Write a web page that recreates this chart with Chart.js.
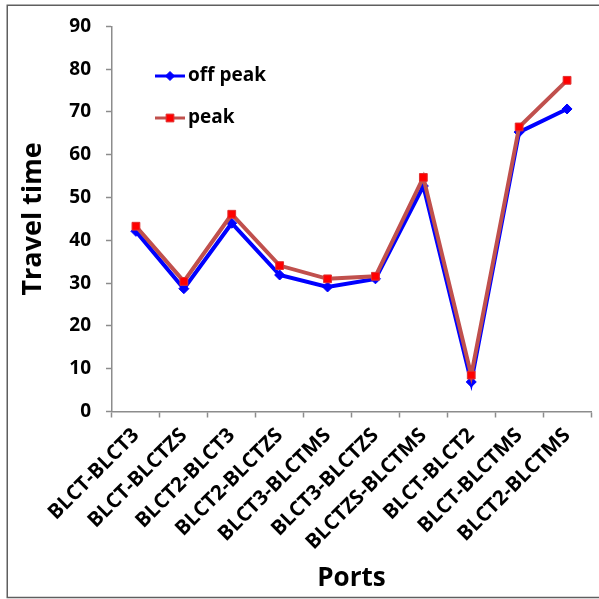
<!DOCTYPE html>
<html>
<head>
<meta charset="utf-8">
<title>Travel time by port pair</title>
<script src="https://cdn.jsdelivr.net/npm/chart.js@4/dist/chart.umd.min.js"></script>
<style>
  html, body { margin: 0; padding: 0; background: #ffffff; }
  canvas { display: block; }
</style>
</head>
<body>
<canvas id="chart" width="599" height="599"></canvas>
<script>
// Port pairs along the x axis
const ports = ['BLCT-BLCT3', 'BLCT-BLCTZS', 'BLCT2-BLCT3', 'BLCT2-BLCTZS', 'BLCT3-BLCTMS',
               'BLCT3-BLCTZS', 'BLCTZS-BLCTMS', 'BLCT-BLCT2', 'BLCT-BLCTMS', 'BLCT2-BLCTMS'];

// Travel time per port pair
const offPeak = [42.1, 28.7, 44.0, 31.9, 29.1, 31.0, 52.7, 6.9, 65.3, 70.7];
const peak    = [43.3, 30.4, 46.1, 34.1, 31.0, 31.6, 54.7, 8.5, 66.5, 77.4];

// Y axis range
const yMin = 0;
const yMax = 90;
const yStep = 10;

const FONT = "'Open Sans', 'DejaVu Sans', sans-serif";

// Outer frame around the whole figure
const framePlugin = {
  id: 'frame',
  beforeDraw(chart) {
    const ctx = chart.ctx;
    ctx.save();
    ctx.fillStyle = '#ffffff';
    ctx.fillRect(0, 0, chart.width, chart.height);
    ctx.strokeStyle = '#5f5f5f';
    ctx.lineWidth = 1.5;
    ctx.strokeRect(7.25, 5.25, chart.width + 20, chart.height - 6.75);
    ctx.restore();
  }
};

// Legend drawn inside the plot area, upper left
const insideLegend = {
  id: 'insideLegend',
  afterDatasetsDraw(chart) {
    const ctx = chart.ctx;
    const rows = [
      { ds: chart.data.datasets[0], y: 76, r: 4.5 },
      { ds: chart.data.datasets[1], y: 118, r: 5.5 }
    ];
    ctx.save();
    rows.forEach(({ ds, y, r }) => {
      ctx.strokeStyle = ds.borderColor;
      ctx.lineWidth = 3;
      ctx.beginPath();
      ctx.moveTo(155, y);
      ctx.lineTo(185, y);
      ctx.stroke();
      ctx.fillStyle = ds.pointBackgroundColor;
      ctx.strokeStyle = ds.pointBorderColor;
      ctx.lineWidth = 1;
      Chart.helpers.drawPoint(ctx, { pointStyle: ds.pointStyle, radius: r, borderWidth: 1 }, 170, y);
      ctx.fillStyle = '#000000';
      ctx.font = "bold 19px " + FONT;
      ctx.textAlign = 'left';
      ctx.textBaseline = 'middle';
      ctx.fillText(ds.label, 188, y);
    });
    ctx.restore();
  }
};

const ctx = document.getElementById('chart').getContext('2d');
new Chart(ctx, {
  type: 'line',
  data: {
    labels: ports,
    datasets: [
      {
        label: 'off peak',
        data: offPeak,
        borderColor: '#0000ff',
        borderWidth: 4,
        pointStyle: 'rectRot',
        pointRadius: 5,
        pointBackgroundColor: '#0000ff',
        pointBorderColor: '#0000ff',
        pointBorderWidth: 1,
        tension: 0,
        order: 2
      },
      {
        label: 'peak',
        data: peak,
        borderColor: '#c0504d',
        borderWidth: 4,
        pointStyle: 'rect',
        pointRadius: 5.5,
        pointBackgroundColor: '#ff0000',
        pointBorderColor: '#e03030',
        pointBorderWidth: 1,
        tension: 0,
        order: 1
      }
    ]
  },
  options: {
    responsive: false,
    devicePixelRatio: 1,
    animation: false,
    events: [],
    layout: { padding: { left: 0, top: 25, right: 8, bottom: 0 } },
    plugins: {
      legend: { display: false },
      tooltip: { enabled: false }
    },
    scales: {
      x: {
        type: 'category',
        offset: true,
        grid: {
          offset: true,
          drawOnChartArea: false,
          drawTicks: true,
          tickLength: 6,
          tickColor: '#8c8c8c',
          tickWidth: 1.5
        },
        border: { display: true, color: '#8c8c8c', width: 1.5 },
        ticks: {
          autoSkip: false,
          minRotation: 45,
          maxRotation: 45,
          padding: 6,
          color: '#000000',
          font: { family: FONT, size: 20.5, weight: 'bold' }
        },
        title: {
          display: true,
          text: 'Ports',
          color: '#000000',
          font: { family: FONT, size: 26, weight: 'bold' },
          padding: { top: 0, bottom: 5 }
        },
        afterFit(scale) { scale.height = 187.5; }
      },
      y: {
        min: yMin,
        max: yMax,
        grid: {
          drawOnChartArea: false,
          drawTicks: true,
          tickLength: 6,
          tickColor: '#8c8c8c',
          tickWidth: 1.5
        },
        border: { display: true, color: '#8c8c8c', width: 1.5 },
        ticks: {
          stepSize: yStep,
          padding: 15,
          color: '#000000',
          font: { family: FONT, size: 19, weight: 'bold' }
        },
        title: {
          display: true,
          text: 'Travel time',
          color: '#000000',
          font: { family: FONT, size: 27, weight: 'bold' },
          padding: { top: 17, bottom: 0 }
        },
        afterFit(scale) { scale.width = 112; }
      }
    }
  },
  plugins: [framePlugin, insideLegend]
});
</script>
</body>
</html>
